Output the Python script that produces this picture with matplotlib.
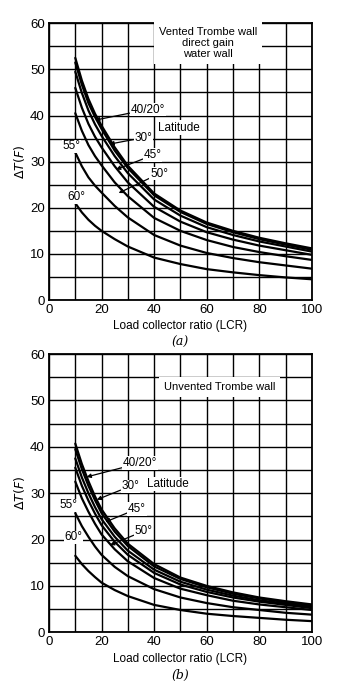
import numpy as np
import matplotlib
matplotlib.use("Agg")
import matplotlib.pyplot as plt

plt.rcParams['font.family'] = ['Liberation Sans', 'DejaVu Sans']

# LCR values where the curves were read
lcr = [10, 12.5, 15, 17.5, 20, 25, 30, 40, 50, 60, 70, 80, 90, 100]

# (a) vented Trombe wall / direct gain / water wall
vented = {
    '40': [52.5, 47.6, 43.6, 40.4, 37.8, 33.1, 29.1, 23.1, 19.4, 16.8, 15.0, 13.5, 12.3, 11.2],
    '20': [51.5, 46.7, 42.7, 39.7, 37.1, 32.4, 28.6, 22.7, 19.1, 16.5, 14.7, 13.2, 12.0, 10.9],
    '30': [49.5, 44.9, 41.1, 38.1, 35.6, 31.2, 27.5, 21.8, 18.3, 15.8, 14.1, 12.7, 11.6, 10.5],
    '45': [46.0, 41.7, 38.2, 35.4, 33.1, 29.0, 25.5, 20.2, 17.0, 14.7, 13.1, 11.8, 10.8, 9.8],
    '50': [40.5, 36.7, 33.6, 31.2, 29.2, 25.5, 22.5, 17.8, 15.0, 13.0, 11.5, 10.4, 9.5, 8.7],
    '55': [32.0, 29.0, 26.6, 24.8, 23.3, 20.4, 17.9, 14.1, 11.8, 10.2, 9.1, 8.2, 7.5, 6.8],
    '60': [21.0, 19.0, 17.4, 16.1, 15.0, 13.2, 11.6, 9.2, 7.8, 6.7, 6.0, 5.4, 4.9, 4.5],
}

# (b) unvented Trombe wall
unvented = {
    '40': [40.7, 36.3, 32.6, 29.3, 26.5, 22.4, 19.1, 14.7, 11.8, 10.0, 8.6, 7.5, 6.7, 6.0],
    '20': [39.5, 35.2, 31.6, 28.5, 25.7, 21.7, 18.6, 14.2, 11.5, 9.7, 8.3, 7.3, 6.5, 5.8],
    '30': [37.5, 33.4, 30.0, 27.0, 24.4, 20.6, 17.6, 13.5, 10.9, 9.2, 7.9, 6.9, 6.2, 5.5],
    '45': [35.5, 31.6, 28.4, 25.6, 23.1, 19.5, 16.7, 12.8, 10.3, 8.7, 7.5, 6.6, 5.9, 5.2],
    '50': [32.5, 28.9, 26.0, 23.4, 21.1, 17.9, 15.3, 11.7, 9.4, 8.0, 6.8, 6.0, 5.4, 4.8],
    '55': [25.7, 22.9, 20.6, 18.5, 16.7, 14.1, 12.1, 9.3, 7.5, 6.3, 5.4, 4.8, 4.2, 3.8],
    '60': [16.5, 14.7, 13.2, 11.9, 10.7, 9.1, 7.8, 5.9, 4.8, 4.0, 3.5, 3.1, 2.7, 2.4],
}

x_ticks = [0, 20, 40, 60, 80, 100]
y_ticks = [0, 10, 20, 30, 40, 50, 60]

# label text, text position, arrow target
vented_labels = [
    ('40/20°', (31.0, 41.3), (17.5, 39.0)),
    ('30°', (32.5, 35.2), (23.0, 33.8)),
    ('45°', (36.0, 31.4), (25.5, 28.3)),
    ('50°', (38.5, 27.4), (26.5, 23.2)),
]
unvented_labels = [
    ('40/20°', (28.0, 36.5), (14.3, 33.5)),
    ('30°', (27.5, 31.5), (18.2, 28.6)),
    ('45°', (30.0, 26.6), (21.5, 23.8)),
    ('50°', (32.5, 21.8), (23.2, 18.8)),
]


def draw_panel(ax, data, title, title_xy, lat_xy, labels, l55, l60, tag):
    for key, vals in data.items():
        ax.plot(lcr, vals, color='black', lw=1.6, solid_capstyle='round',
                solid_joinstyle='round')
    ax.set_xlim(0, 100)
    ax.set_ylim(0, 60)
    ax.set_xticks(np.arange(0, 101, 10))
    ax.set_yticks(np.arange(0, 61, 5))
    ax.set_xticklabels([str(v) if v in x_ticks else '' for v in range(0, 101, 10)])
    ax.set_yticklabels([str(v) if v in y_ticks else '' for v in range(0, 61, 5)])
    ax.tick_params(length=0, labelsize=9.5, pad=3)
    ax.grid(True, color='black', lw=1.0)
    ax.set_axisbelow(True)
    for s in ax.spines.values():
        s.set_linewidth(1.3)
    ax.text(title_xy[0], title_xy[1], title, ha='center', va='top', fontsize=8,
            linespacing=1.15,
            bbox=dict(facecolor='white', edgecolor='none', pad=3.5))
    ax.text(lat_xy[0], lat_xy[1], 'Latitude', ha='center', va='center', fontsize=8.5,
            bbox=dict(facecolor='white', edgecolor='none', pad=1))
    for txt, pos, tgt in labels:
        ax.annotate(txt, xy=tgt, xytext=pos, ha='left', va='center', fontsize=8.5,
                    arrowprops=dict(arrowstyle='-|>', color='black', lw=0.9,
                                    mutation_scale=6, shrinkA=0, shrinkB=0),
                    bbox=dict(facecolor='white', edgecolor='none', pad=0.5))
    ax.text(l55[0], l55[1], '55°', ha='center', va='center', fontsize=8.5,
            bbox=dict(facecolor='white', edgecolor='none', pad=0.5))
    ax.text(l60[0], l60[1], '60°', ha='center', va='center', fontsize=8.5,
            bbox=dict(facecolor='white', edgecolor='none', pad=0.5))
    ax.set_ylabel(r'$\Delta T(F)$', fontsize=9, labelpad=2)
    ax.set_xlabel('Load collector ratio (LCR)', fontsize=8.5, labelpad=3)
    ax.text(0.5, -0.155, tag, transform=ax.transAxes, ha='center', va='center',
            fontsize=9, style='italic', family='DejaVu Serif')


fig = plt.figure(figsize=(3.5, 6.85), dpi=100)
ax1 = fig.add_axes([0.14, 0.562, 0.751, 0.404])
ax2 = fig.add_axes([0.14, 0.077, 0.751, 0.406])

draw_panel(ax1, vented, 'Vented Trombe wall\ndirect gain\nwater wall', (60.5, 59.2),
           (49.5, 37.4), vented_labels, (8.5, 33.3), (10.5, 22.3), '(a)')
draw_panel(ax2, unvented, 'Unvented Trombe wall', (65.0, 54.0),
           (45.3, 32.0), unvented_labels, (7.3, 27.4), (9.3, 20.5), '(b)')

fig.savefig('out.png', dpi=100)
